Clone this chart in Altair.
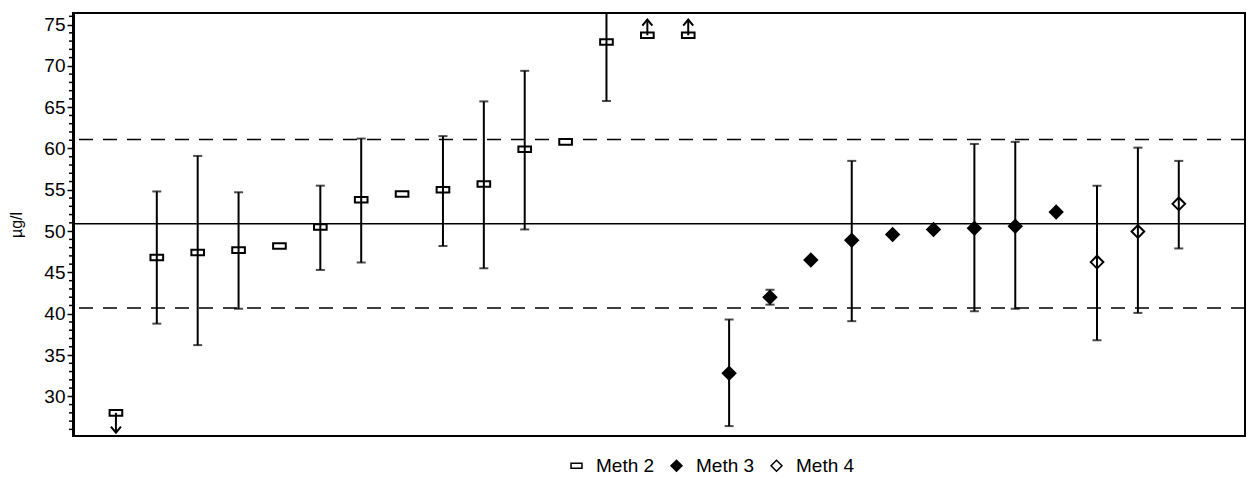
import altair as alt
import pandas as pd

# Laboratory results (one per participant), grouped by method
labs = list(range(1, 28))
methods = ["Meth 2"] * 15 + ["Meth 3"] * 9 + ["Meth 4"] * 3
values = [28.0, 46.8, 47.4, 47.7, 48.2, 50.5, 53.8, 54.5, 55.0, 55.7, 59.9, 60.8,
          72.9, 73.7, 73.7, 32.8, 42.0, 46.5, 48.9, 49.6, 50.2, 50.35, 50.6, 52.3,
          46.25, 49.95, 53.3]
lows = [None, 38.8, 36.2, 40.6, None, 45.3, 46.2, None, 48.2, 45.5, 50.2, None,
        65.75, None, None, 26.4, 41.1, None, 39.1, None, None, 40.3, 40.6, None,
        36.8, 40.1, 47.9]
highs = [None, 54.8, 59.1, 54.7, None, 55.5, 61.2, None, 61.5, 65.7, 69.4, None,
         78.0, None, None, 39.3, 42.9, None, 58.5, None, None, 60.55, 60.8, None,
         55.5, 60.1, 58.5]

# Results outside the displayed range, marked with arrows
arrow_labs = [1, 14, 15]
arrow_from = [28.0, 73.7, 73.7]
arrow_to = [25.6, 75.6, 75.6]
arrow_dir = ["down", "up", "up"]

# Assigned value and tolerance limits
assigned_value = 50.9
lower_limit = 40.7
upper_limit = 61.1

y_ticks = [30, 35, 40, 45, 50, 55, 60, 65, 70, 75]
minor_ticks = [v for v in range(26, 77) if v % 5 != 0]

FONT = "Liberation Sans"
RECT = "M-1,-0.44H1V0.44H-1Z"
METHODS = ["Meth 2", "Meth 3", "Meth 4"]

points = pd.DataFrame({"lab": labs, "method": methods, "value": values,
                       "low": lows, "high": highs})
bars = points.dropna(subset=["low"])
arrows = pd.DataFrame({"lab": arrow_labs, "start": arrow_from,
                       "end": arrow_to, "dir": arrow_dir})

xs = alt.Scale(domain=[-0.05, 28.62], nice=False, zero=False)
ys = alt.Scale(domain=[25.2, 76.4], nice=False, zero=False)
X = alt.X("lab:Q", scale=xs, axis=None)

yaxis = alt.Axis(values=y_ticks, title="µg/l", titleFont=FONT, titleFontSize=16,
                 titleFontWeight="normal", titleColor="black", titleX=-49,
                 labelFont=FONT, labelFontSize=19, labelColor="black",
                 labelPadding=2, tickSize=6, tickWidth=1.5, tickColor="black",
                 domainColor="black", domainWidth=3, grid=False)

solid = alt.Chart(pd.DataFrame({"v": [assigned_value]})).mark_rule(
    color="black", strokeWidth=1.5
).encode(y=alt.Y("v:Q", scale=ys, axis=yaxis))

dashed = alt.Chart(pd.DataFrame({"v": [lower_limit, upper_limit]})).mark_rule(
    color="black", strokeWidth=1.5, strokeDash=[14, 10]
).encode(y=alt.Y("v:Q", scale=ys))

minor = alt.Chart(pd.DataFrame({"v": minor_ticks})).mark_rule(
    color="black", strokeWidth=1.5
).encode(y=alt.Y("v:Q", scale=ys), x=alt.value(-4), x2=alt.value(-1))

legend = alt.Legend(orient="none", legendX=494, legendY=443, direction="horizontal",
                    title=None, labelFont=FONT, labelFontSize=19, labelColor="black",
                    symbolStrokeWidth=1.5, symbolSize=120,
                    columnPadding=12, labelOffset=10, padding=0)

marks = alt.Chart(points).mark_point(
    filled=True, strokeWidth=2, size=160, opacity=1
).encode(
    x=X,
    y=alt.Y("value:Q", scale=ys),
    shape=alt.Shape("method:N", scale=alt.Scale(
        domain=METHODS, range=[RECT, "diamond", "diamond"]), legend=legend),
    fill=alt.Fill("method:N", scale=alt.Scale(
        domain=METHODS, range=["white", "black", "white"]), legend=legend),
    stroke=alt.Stroke("method:N", scale=alt.Scale(
        domain=METHODS, range=["black", "black", "black"]), legend=legend),
)

err = alt.Chart(bars).mark_rule(color="black", strokeWidth=2, clip=True).encode(
    x=X, y=alt.Y("low:Q", scale=ys), y2="high:Q")

cap_lo = alt.Chart(bars).mark_tick(color="black", thickness=2, size=9,
                                   orient="horizontal", clip=True).encode(
    x=X, y=alt.Y("low:Q", scale=ys))
cap_hi = alt.Chart(bars).mark_tick(color="black", thickness=2, size=9,
                                   orient="horizontal", clip=True).encode(
    x=X, y=alt.Y("high:Q", scale=ys))

shaft = alt.Chart(arrows).mark_rule(color="black", strokeWidth=2).encode(
    x=X, y=alt.Y("start:Q", scale=ys), y2="end:Q")

head_down = alt.Chart(arrows).transform_filter(alt.datum.dir == "down").mark_point(
    filled=False, stroke="black", strokeWidth=2, size=100, opacity=1,
    shape="M-1,-1.2L0,0L1,-1.2"
).encode(x=X, y=alt.Y("end:Q", scale=ys))

head_up = alt.Chart(arrows).transform_filter(alt.datum.dir == "up").mark_point(
    filled=False, stroke="black", strokeWidth=2, size=100, opacity=1,
    shape="M-1,1.2L0,0L1,1.2"
).encode(x=X, y=alt.Y("end:Q", scale=ys))

chart = alt.layer(
    solid, dashed, minor, marks, err, cap_lo, cap_hi, shaft, head_down, head_up
).properties(
    width=1172, height=423, autosize="none",
    padding={"left": 73, "top": 13, "right": 8, "bottom": 43},
    background="white",
).configure_view(stroke="black", strokeWidth=2)

chart.save("out.html", embed_options={"renderer": "svg", "actions": False})
